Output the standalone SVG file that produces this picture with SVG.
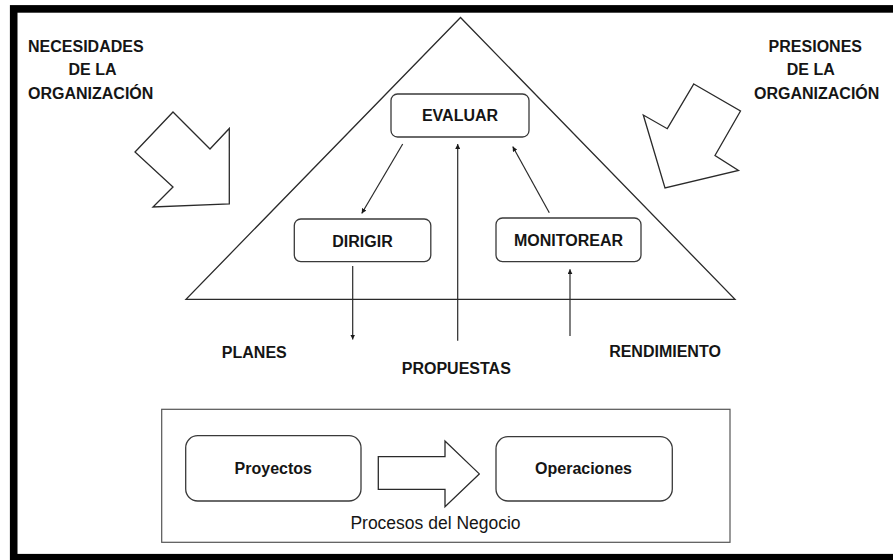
<svg xmlns="http://www.w3.org/2000/svg" width="893" height="560" viewBox="0 0 893 560">
<style>
.t{font-family:"Liberation Sans",Arial,sans-serif;font-weight:bold;fill:#151515;font-size:16px}
.tm{text-anchor:middle}
.box{fill:#fff;stroke:#3a3a3a;stroke-width:1.3}
.shape{fill:#fff;stroke:#2a2a2a;stroke-width:1.3;stroke-linejoin:miter}
.con{stroke:#2a2a2a;stroke-width:1.2;fill:none}
</style>
<defs>
<marker id="ah" viewBox="0 0 10 10" refX="10" refY="5" markerWidth="5" markerHeight="5" orient="auto" markerUnits="userSpaceOnUse">
<path d="M0,0 L10,5 L0,10 z" fill="#1a1a1a"/>
</marker>
</defs>
<rect x="0" y="0" width="893" height="560" fill="#fff"/>
<rect x="13.7" y="8.9" width="900" height="548.8" fill="none" stroke="#000" stroke-width="7.6"/>

<g id="triangle"><polygon class="shape" fill="none" points="460.5,17.5 186,299.3 735,299.3"/></g>

<g id="arrow-necesidades"><polygon class="shape" points="173,112 210,149 229.3,128.5 229.3,204 153,207 173,187 135,152"/></g>
<g id="arrow-presiones"><polygon class="shape" points="693.8,84 740.5,111 715,155.5 738.5,170.5 665,188 643.3,115 667.3,128.7"/></g>

<g id="label-necesidades" class="t">
<text x="28" y="51.7">NECESIDADES</text>
<text x="92.5" y="75" class="tm">DE LA</text>
<text x="28" y="99">ORGANIZACIÓN</text>
</g>
<g id="label-presiones" class="t tm">
<text x="815.3" y="51.7">PRESIONES</text>
<text x="810.8" y="75">DE LA</text>
<text x="816.7" y="99">ORGANIZACIÓN</text>
</g>

<g id="evaluar"><rect class="box" x="391" y="94" width="138" height="43" rx="6.5"/><text class="t tm" x="460" y="121">EVALUAR</text></g>
<g id="dirigir"><rect class="box" x="294.3" y="219" width="136.5" height="42.7" rx="6.5"/><text class="t tm" x="362.5" y="246.5">DIRIGIR</text></g>
<g id="monitorear"><rect class="box" x="496" y="218" width="145" height="43.7" rx="6.5"/><text class="t tm" x="568.5" y="245.5">MONITOREAR</text></g>

<g id="connectors">
<line class="con" x1="402.7" y1="144" x2="361.7" y2="213.5" marker-end="url(#ah)"/>
<line class="con" x1="549.3" y1="212.7" x2="512.7" y2="146.5" marker-end="url(#ah)"/>
<line class="con" x1="457.7" y1="340.7" x2="457.7" y2="144" marker-end="url(#ah)"/>
<line class="con" x1="352.7" y1="266" x2="352.7" y2="339.5" marker-end="url(#ah)"/>
<line class="con" x1="570" y1="336" x2="570" y2="269.3" marker-end="url(#ah)"/>
</g>

<g id="label-planes"><text class="t tm" x="254.3" y="358.3">PLANES</text></g>
<g id="label-propuestas"><text class="t tm" x="456.3" y="374">PROPUESTAS</text></g>
<g id="label-rendimiento"><text class="t tm" x="665" y="357">RENDIMIENTO</text></g>

<g id="procesos-negocio">
<rect x="161.7" y="409.3" width="568.3" height="133" fill="#fff" stroke="#555" stroke-width="1.2"/>
<text x="435.5" y="529.3" class="tm" style="font-family:'Liberation Sans',Arial,sans-serif;font-size:17.5px;fill:#151515">Procesos del Negocio</text>
</g>
<g id="proyectos"><rect class="box" x="185.7" y="435.7" width="175.3" height="65.3" rx="12"/><text class="t tm" x="273.3" y="474">Proyectos</text></g>
<g id="operaciones"><rect class="box" x="496" y="436.7" width="176.3" height="64.3" rx="12"/><text class="t tm" x="583.5" y="474">Operaciones</text></g>
<g id="block-arrow"><polygon class="shape" points="378.3,456.7 445,456.7 445,441 479.3,473.9 445,506.7 445,489.3 378.3,489.3"/></g>
</svg>
